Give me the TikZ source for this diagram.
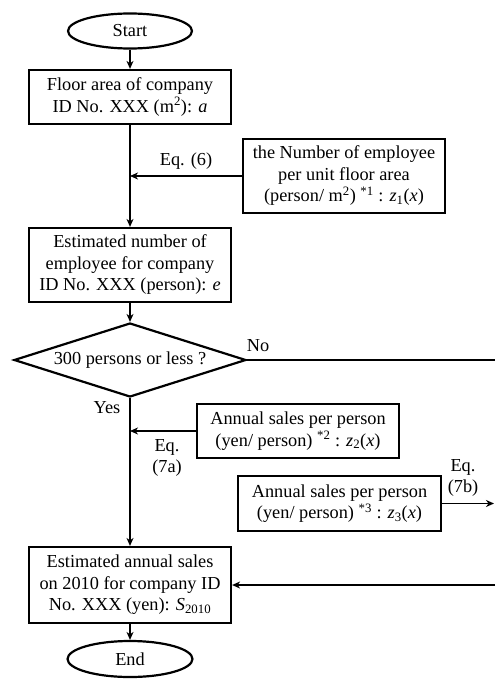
\documentclass[tikz,border=0pt]{standalone}
\usepackage{fontspec}
\setmainfont{Liberation Serif}
\usetikzlibrary{shapes.geometric,arrows.meta}
\begin{document}
\begin{tikzpicture}[x=1pt,y=-1pt,
  every node/.style={font=\rmfamily\fontsize{18.3}{21.5}\selectfont, inner sep=0pt, align=center},
  procbox/.style={draw, line width=2.2pt, rectangle, minimum width=202pt},
  term/.style={draw, line width=2.2pt, ellipse, minimum width=124pt, minimum height=35pt},
  decide/.style={draw, line width=2.2pt, diamond, minimum width=232pt, minimum height=74pt, aspect=3.1},
  flow/.style={line width=1.9pt, -{Stealth[length=8pt,width=7pt,inset=2.5pt]}},
  plain/.style={line width=1.9pt},
  lbl/.style={font=\rmfamily\fontsize{18.3}{21}\selectfont}]
\useasboundingbox (0,0) rectangle (495,679);
\node[term] (start) at (130,31) {Start};
\node[procbox, minimum height=54pt] (floor) at (130,97) {Floor area of company\\ID No. XXX (m\textsuperscript{2}): \textit{a}};
\node[procbox, minimum height=74pt] (z1) at (344,176) {the Number of employee\\per unit floor area\\(person/ m\textsuperscript{2}) \textsuperscript{*1} : \textit{z}\textsubscript{1}(\textit{x})};
\node[procbox, minimum height=74pt] (emp) at (130,265) {Estimated number of\\employee for company\\ID No. XXX (person): \textit{e}};
\node[decide] (dec) at (130,360) {300 persons or less ?};
\node[procbox, minimum height=54pt] (z2) at (298,431) {Annual sales per person\\(yen/ person) \textsuperscript{*2} : \textit{z}\textsubscript{2}(\textit{x})};
\node[procbox, minimum width=203pt, minimum height=55pt] (z3) at (339.5,503.5) {Annual sales per person\\(yen/ person) \textsuperscript{*3} : \textit{z}\textsubscript{3}(\textit{x})};
\node[procbox, minimum height=76pt] (sales) at (130,585) {Estimated annual sales\\on 2010 for company ID\\No. XXX (yen): \textit{S}\textsubscript{2010}};
\node[term, minimum width=125pt, minimum height=36pt] (end) at (130,659) {End};

\coordinate (j1) at (130,176);
\coordinate (j2) at (130,431);
\coordinate (noend) at (495,360);
\coordinate (z3end) at (494,503.5);
\coordinate (inend) at (495,585);

\draw[flow] (start) -- (floor);
\draw[flow] (floor) -- (emp);
\draw[flow] (z1.west) -- (j1);
\draw[flow] (emp) -- (dec);
\draw[plain] (dec.east) -- (noend);
\draw[flow] (dec.south) -- (sales.north);
\draw[flow] (z2.west) -- (j2);
\draw[flow] (z3.east) -- (z3end);
\draw[flow] (inend) -- (sales.east);
\draw[flow] (sales) -- (end);

\node[lbl] (eq6) at (186,161) {Eq. (6)};
\node[lbl] (no) at (258,346) {No};
\node[lbl] (yes) at (107,408) {Yes};
\node[lbl] (eq7a) at (167,457.5) {Eq.\\(7a)};
\node[lbl] (eq7b) at (463,478) {Eq.\\(7b)};
\end{tikzpicture}
\end{document}
